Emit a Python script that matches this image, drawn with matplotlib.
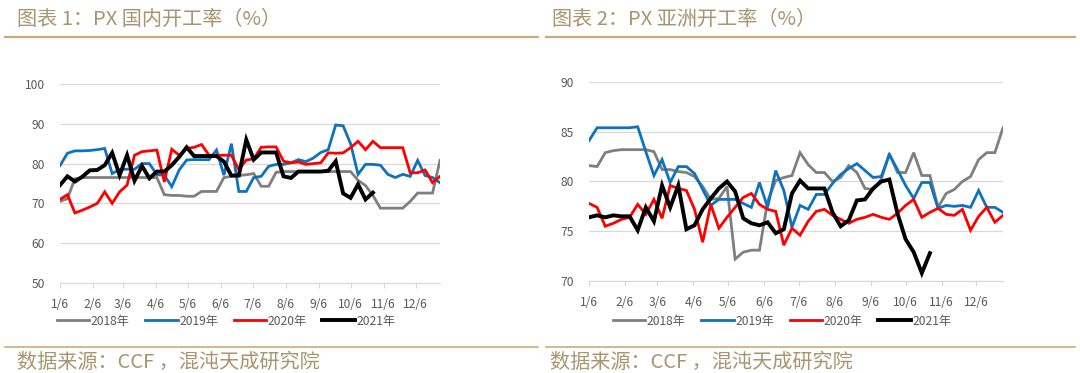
import numpy as np
import matplotlib
matplotlib.use("Agg")
import matplotlib.pyplot as plt
from matplotlib.lines import Line2D

plt.rcParams["font.family"] = ["Noto Sans CJK SC", "DejaVu Sans"]

# ---- data (weekly, first week = 1/6) ----
month_labels = ["1/6", "2/6", "3/6", "4/6", "5/6", "6/6", "7/6", "8/6", "9/6", "10/6", "11/6", "12/6"]
month_days = [0, 31, 59, 90, 120, 151, 181, 212, 243, 273, 304, 334]  # days after 1/6
years = ["2018年", "2019年", "2020年", "2021年"]

# chart 1: PX domestic operating rate (%)
dom_2018 = [70.5, 71.2, 76.2, 76.5, 76.5, 76.5, 76.5, 76.5, 76.5, 76.5, 76.5, 76.5, 76.5, 76.5,
            72.2, 72.0, 72.0, 71.8, 71.8, 73.0, 73.0, 73.0, 76.5, 76.8, 77.0, 77.2, 77.5, 74.3,
            74.3, 77.8, 78.0, 78.0, 78.0, 78.0, 78.0, 78.0, 78.0, 78.0, 78.0, 78.0, 75.8, 74.5,
            72.0, 68.8, 68.8, 68.8, 68.8, 70.5, 72.6, 72.6, 72.6, 80.8]
dom_2019 = [79.5, 82.6, 83.2, 83.2, 83.3, 83.5, 83.8, 77.5, 78.5, 78.6, 78.6, 80.0, 80.0, 77.2,
            77.1, 74.2, 78.4, 80.9, 81.0, 81.0, 81.0, 83.4, 77.1, 85.0, 73.0, 73.0, 76.5, 76.8,
            79.3, 79.8, 79.8, 80.2, 81.0, 80.5, 81.4, 82.8, 83.5, 89.7, 89.5, 85.0, 77.3, 79.8,
            79.8, 79.6, 77.3, 76.5, 77.3, 76.8, 80.8, 77.0, 76.5, 75.2]
dom_2020 = [71.0, 72.2, 67.6, 68.3, 69.1, 70.0, 72.9, 70.0, 72.9, 74.6, 82.1, 83.0, 83.2, 83.4,
            75.4, 83.6, 82.1, 83.8, 84.1, 84.8, 82.1, 82.1, 82.1, 82.1, 78.5, 80.9, 81.2, 84.1,
            84.2, 84.2, 80.6, 80.2, 80.4, 79.8, 80.0, 80.2, 82.7, 82.6, 82.7, 84.0, 85.6, 83.5,
            85.6, 84.0, 84.0, 84.0, 84.0, 77.7, 77.7, 78.4, 75.2, 76.8]
dom_2021 = [74.6, 76.8, 75.5, 76.7, 78.3, 78.4, 79.6, 82.7, 77.1, 82.1, 75.7, 79.4, 76.3, 78.0,
            78.0, 79.6, 81.7, 84.1, 81.9, 81.9, 81.9, 81.9, 80.5, 77.0, 77.0, 86.0, 81.0, 82.8,
            82.8, 82.8, 76.8, 76.4, 78.0, 78.0, 78.0, 78.0, 78.2, 80.6, 72.5, 71.4, 74.8, 71.0,
            72.7]

# chart 2: PX Asia operating rate (%)
asia_2018 = [81.6, 81.5, 82.9, 83.1, 83.2, 83.2, 83.2, 83.2, 83.0, 81.2, 81.2, 81.0, 80.9, 80.5,
             79.5, 78.2, 78.3, 79.5, 72.2, 72.9, 73.1, 73.1, 78.0, 80.1, 80.4, 80.6, 82.9, 81.7,
             80.9, 80.9, 80.0, 80.4, 81.6, 80.9, 79.3, 79.2, 80.2, 82.8, 80.9, 80.9, 82.9, 80.6,
             80.6, 77.4, 78.8, 79.2, 80.0, 80.5, 82.2, 82.9, 82.9, 85.4]
asia_2019 = [84.1, 85.4, 85.4, 85.4, 85.4, 85.4, 85.5, 83.0, 80.6, 82.2, 79.9, 81.5, 81.5, 80.8,
             79.2, 77.6, 78.2, 78.2, 78.2, 77.8, 77.4, 79.9, 77.4, 81.1, 79.1, 75.4, 77.6, 77.2,
             78.7, 78.7, 79.8, 80.7, 81.3, 81.8, 81.1, 80.4, 80.5, 82.7, 81.2, 79.6, 78.3, 79.9,
             79.9, 77.3, 77.6, 77.5, 77.6, 77.4, 79.1, 77.4, 77.4, 76.9]
asia_2020 = [77.8, 77.4, 75.5, 75.8, 76.2, 76.4, 77.7, 76.7, 78.2, 76.3, 79.6, 79.3, 79.1, 77.2,
             73.9, 77.7, 75.3, 76.4, 77.4, 78.4, 78.8, 77.7, 77.2, 77.0, 73.6, 75.3, 74.6, 76.0,
             77.0, 77.2, 76.6, 76.2, 75.8, 76.2, 76.4, 76.7, 76.4, 76.2, 76.8, 77.6, 78.2, 76.4,
             76.9, 77.3, 76.7, 76.6, 77.2, 75.1, 76.5, 77.4, 75.9, 76.6]
asia_2021 = [76.4, 76.6, 76.4, 76.6, 76.5, 76.5, 75.1, 77.4, 76.0, 79.6, 77.4, 79.6, 75.2, 75.6,
             77.2, 78.3, 79.3, 80.0, 79.0, 76.3, 75.8, 75.6, 75.9, 74.8, 75.2, 78.8, 80.1, 79.3,
             79.3, 79.3, 76.9, 75.5, 76.1, 78.1, 78.2, 79.3, 80.0, 80.2, 76.8, 74.2, 72.9, 70.8,
             72.8]

colors = ["#7f7f7f", "#0f72bd", "#ff0000", "#000000"]
widths = [2.0, 2.0, 2.0, 2.8]
TXT = "#595959"
GOLD = "#a8946e"
LINE_GOLD = "#c9ab78"


def px(x):
    return x / 1080


def py(y):
    return 1 - y / 373


def draw_panel(ax, series, yticks, legend_x):
    handles = []
    for s, c, lw, lab in zip(series, colors, widths, years):
        h, = ax.plot(np.arange(len(s)), s, color=c, lw=lw, label=lab,
                     solid_joinstyle="miter", zorder=3)
        handles.append(h)
    ax.set_xlim(0, 51)
    ax.set_ylim(yticks[0], yticks[-1])
    ax.set_yticks(yticks)
    ax.set_xticks(np.array(month_days) / 7)
    ax.set_xticklabels(month_labels)
    ax.grid(axis="y", color="#d9d9d9", lw=0.9)
    ax.set_axisbelow(True)
    for sp in ["top", "right", "left"]:
        ax.spines[sp].set_visible(False)
    ax.spines["bottom"].set_color("#d9d9d9")
    ax.tick_params(axis="y", length=0, pad=11, labelsize=8.7, labelcolor=TXT)
    ax.tick_params(axis="x", length=3.5, color="#d9d9d9", pad=7, labelsize=8.7, labelcolor=TXT)
    fig.legend(handles, years, loc="center", bbox_to_anchor=(px(legend_x), py(321)),
               ncol=4, frameon=False, fontsize=8.7, labelcolor=TXT,
               handlelength=2.7, handletextpad=0.1, columnspacing=1.3)


fig = plt.figure(figsize=(10.8, 3.73), dpi=100)

ax1 = fig.add_axes([px(60), py(283), px(380), 199 / 373])
draw_panel(ax1, [dom_2018, dom_2019, dom_2020, dom_2021], [50, 60, 70, 80, 90, 100], 226)

ax2 = fig.add_axes([px(589), py(281), px(414), 199 / 373])
draw_panel(ax2, [asia_2018, asia_2019, asia_2020, asia_2021], [70, 75, 80, 85, 90], 782)

# titles, rules and source notes
fig.text(px(17), py(19), "图表 1：PX 国内开工率（%）", fontsize=14.5, color=GOLD, va="center")
fig.text(px(552), py(19), "图表 2：PX 亚洲开工率（%）", fontsize=14.5, color=GOLD, va="center")
for x0, x1 in [(5, 538), (546, 1075)]:
    fig.add_artist(Line2D([px(x0), px(x1)], [py(37), py(37)], color=LINE_GOLD, lw=1.6))
    fig.add_artist(Line2D([px(x0), px(x1)], [py(347), py(347)], color=LINE_GOLD, lw=1.2))
fig.text(px(17), py(362), "数据来源：CCF ，混沌天成研究院", fontsize=14.5, color=GOLD, va="center")
fig.text(px(550), py(362), "数据来源：CCF ，混沌天成研究院", fontsize=14.5, color=GOLD, va="center")

fig.savefig("out.png", dpi=100)
